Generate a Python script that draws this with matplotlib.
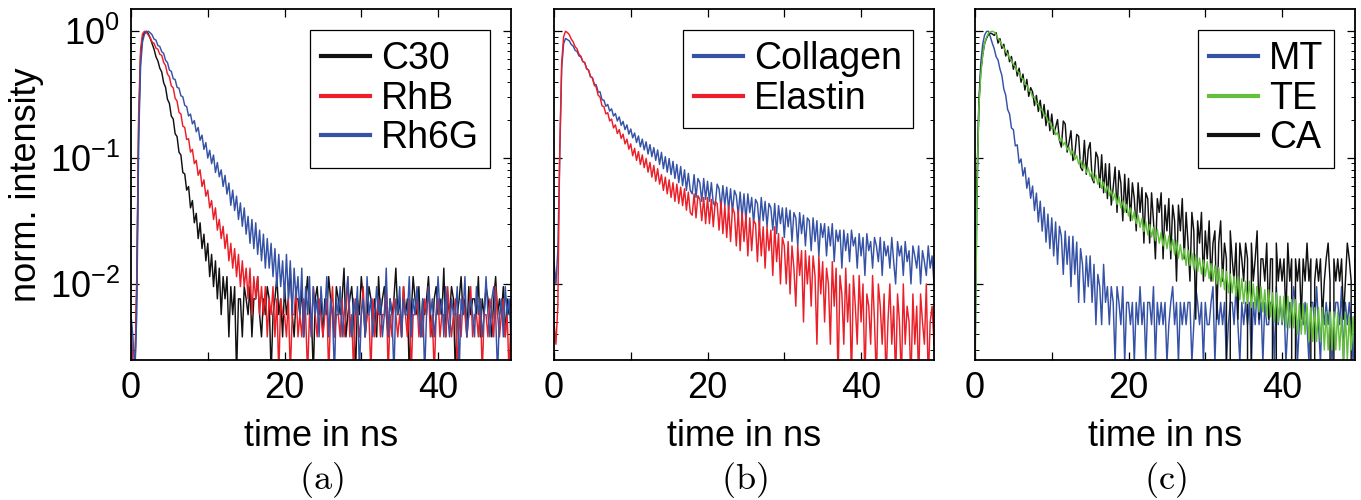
import numpy as np
import matplotlib
matplotlib.use("Agg")
import matplotlib.pyplot as plt
from matplotlib.ticker import MultipleLocator, LogLocator, NullFormatter

plt.rcParams["font.family"] = ["Liberation Sans", "DejaVu Sans"]

# histogram bin width in ns
dt = 0.25

# photon counts per bin (norm = counts at intensity 1)
c30 = [
    2, 1, 1, 5, 95, 335, 468, 512, 525, 503,
    462, 418, 379, 330, 306, 268, 250, 206, 189, 152,
    141, 112, 106, 81, 77, 58, 55, 40, 39, 29,
    31, 21, 24, 16, 19, 12, 16, 10, 13, 8,
    11, 6, 9, 5, 8, 4, 7, 3, 6, 4,
    6, 2, 5, 3, 5, 1, 4, 4, 2, 5,
    4, 3, 5, 2, 4, 4, 6, 3, 2, 4,
    3, 5, 4, 1, 3, 4, 6, 3, 4, 2,
    5, 3, 4, 7, 3, 2, 4, 4, 3, 5,
    2, 4, 6, 3, 3, 1, 4, 5, 3, 4,
    2, 4, 3, 6, 4, 3, 2, 5, 4, 3,
    4, 7, 2, 3, 4, 5, 3, 1, 4, 3,
    6, 4, 2, 3, 5, 4, 3, 4, 2, 6,
    3, 4, 5, 3, 2, 4, 3, 4, 7, 3,
    4, 2, 5, 3, 4, 1, 3, 6, 4, 3,
    5, 2, 4, 3, 4, 6, 3, 2, 4, 5,
    3, 4, 3, 7, 2, 4, 3, 5, 4, 1,
    3, 4, 6, 3, 4, 2, 5, 3, 4, 4,
    3, 6, 2, 4, 3, 5, 4, 3, 2, 4,
    6, 3, 4, 3, 5, 2, 4, 3, 4,
]
rhb = [
    3, 1, 1, 6, 120, 380, 500, 525, 515, 490,
    468, 431, 422, 386, 378, 345, 339, 298, 281, 241,
    229, 194, 187, 155, 147, 120, 116, 93, 91, 73,
    74, 58, 61, 47, 50, 38, 42, 31, 35, 26,
    29, 21, 24, 17, 21, 14, 17, 12, 15, 10,
    13, 8, 11, 7, 10, 6, 9, 5, 8, 5,
    7, 4, 7, 3, 6, 4, 6, 3, 5, 3,
    5, 2, 4, 3, 5, 2, 4, 1, 4, 3,
    3, 2, 4, 1, 3, 3, 5, 2, 3, 2,
    4, 3, 1, 3, 2, 5, 3, 2, 4, 3,
    2, 3, 4, 1, 3, 5, 2, 3, 3, 2,
    4, 2, 3, 6, 2, 3, 1, 4, 3, 2,
    3, 5, 2, 3, 3, 1, 4, 2, 3, 4,
    2, 3, 3, 5, 1, 3, 2, 4, 3, 2,
    3, 2, 5, 3, 2, 4, 1, 3, 3, 4,
    2, 3, 2, 4, 3, 5, 2, 3, 1, 3,
    4, 2, 3, 3, 2, 5, 3, 2, 3, 4,
    1, 3, 2, 4, 3, 2, 3, 5, 2, 3,
    3, 2, 4, 1, 3, 3, 2, 4, 3, 2,
    5, 3, 2, 3, 4, 2, 3, 1, 3,
]
rh6g = [
    3, 2, 1, 3, 72, 278, 432, 497, 519, 525,
    511, 492, 455, 447, 405, 398, 362, 351, 309, 297,
    259, 253, 221, 218, 189, 186, 162, 159, 136, 133,
    112, 116, 97, 103, 84, 91, 72, 79, 61, 69,
    52, 60, 47, 55, 40, 48, 37, 42, 31, 38,
    27, 33, 22, 29, 20, 26, 17, 23, 15, 21,
    13, 18, 11, 17, 10, 16, 9, 14, 8, 13,
    7, 12, 7, 11, 6, 10, 5, 9, 5, 8,
    4, 9, 4, 8, 3, 7, 4, 6, 3, 7,
    2, 5, 3, 6, 2, 5,
    3, 4, 2, 5, 3, 3, 6, 2, 4, 3,
    1, 4, 3, 5, 2, 3, 4, 6, 3, 2,
    4, 3, 5, 1, 3, 4, 2, 6, 3, 4,
    2, 3, 5, 3, 4, 2, 3, 7, 2, 4,
    3, 1, 4, 3, 5, 2, 4, 3, 3, 6,
    2, 4, 3, 5, 3, 2, 4, 1, 3, 5,
    3, 4, 2, 3, 6, 3, 4, 2, 5, 3,
    2, 4, 3, 3, 5, 1, 4, 3, 6, 2,
    3, 4, 3, 2, 5, 3, 4, 2, 3, 6,
    3, 2, 4, 5, 3, 1, 3, 4, 2, 5,
    3, 4, 2,
]
collagen = [
    9, 6, 11, 62, 304, 478, 526, 515, 503, 471,
    458, 424, 415, 383, 376, 346, 339, 305, 296, 263,
    258, 229, 226, 198, 199, 172, 171, 153, 158, 140,
    146, 128, 134, 117, 126, 108, 116, 100, 109, 92,
    101, 86, 94, 79, 89, 73, 84, 69, 80, 64,
    76, 61, 72, 57, 69, 53, 66, 49, 61, 46,
    59, 44, 56, 41, 53, 38, 51, 36, 48, 33,
    45, 33, 31, 44, 29, 41, 38, 27, 41, 28,
    39, 27, 38, 26, 25, 37, 34, 24, 36, 25,
    35, 23, 34, 22, 33, 30, 21, 32, 20, 31,
    19, 31, 22, 29, 18, 28, 26, 17, 29, 19,
    27, 17, 26, 24, 16, 26, 15, 25, 18, 24,
    14, 24, 17, 23, 13, 22, 20, 12, 22, 15,
    21, 12, 20, 19, 11, 20, 13, 19, 10, 18,
    14, 18, 10, 17, 12, 18, 9, 16, 13, 16,
    8, 16, 11, 15, 9, 16, 12, 14, 8, 15,
    10, 14, 7, 15, 11, 13, 8, 14, 12, 9,
    14, 7, 13, 10, 12, 8, 14, 9, 6, 13,
    10, 12, 7, 13, 9, 11, 6, 12, 10, 8,
    12, 6, 11, 9, 7, 12, 8, 10, 6,
]
elastin = [
    3, 2, 4, 71, 338, 542, 600, 586, 563, 519,
    494, 452, 436, 395, 381, 345, 339, 302, 295, 262,
    256, 224, 217, 187, 181, 154, 152, 133, 136, 117,
    121, 103, 109, 93, 100, 85, 92, 77, 84, 70,
    77, 62, 71, 57, 67, 53, 63, 50, 59, 46,
    55, 42, 52, 39, 49, 37, 44, 33, 42, 31,
    40, 29, 38, 27, 37, 26, 35, 25, 34, 23,
    32, 22, 21, 31, 20, 30, 28, 19, 29, 18,
    29, 18, 28, 17, 27, 26, 16, 27, 15, 25,
    14, 25, 13, 24, 22, 12, 23, 11, 22, 13,
    21, 10, 20, 11, 19, 18, 9, 19, 10, 17,
    8, 17, 11, 16, 7, 17, 9, 15, 6, 14,
    12, 6, 13, 5, 12, 8, 4, 12, 7, 11,
    3, 11, 6, 10, 4, 10, 7, 2, 10, 5,
    9, 3, 8, 6, 2, 9, 4, 8, 1, 7,
    5, 2, 8, 3, 6, 1, 7, 4, 2, 7,
    3, 6, 1, 5, 4, 2, 7, 3, 1, 6,
    4, 2, 5, 1, 3, 6, 2, 4, 1, 5,
    3, 1, 6, 2, 4, 3, 1, 5, 2, 4,
    1, 5, 3, 2, 6, 1, 3, 4, 2,
]
mt = [
    1, 18, 112, 236, 331, 392, 418, 420, 380, 338,
    306, 264, 249, 211, 188, 147, 131, 101, 93, 72,
    70, 52, 53, 38, 41, 30, 35, 24, 29, 20,
    25, 16, 22, 13, 19, 11, 17, 9, 15, 8,
    14, 7, 13, 6, 12, 10, 5, 11, 6, 10,
    4, 10, 5, 9, 3, 8, 6, 3, 7, 4,
    7, 3, 6, 2, 5, 4, 2, 6, 3, 4,
    2, 4, 3, 1, 4, 3, 2, 4, 1, 3,
    3, 2, 3, 1, 3, 2, 4, 2, 3, 1,
    3, 3, 2, 4, 1, 3, 2, 3, 2, 3,
    1, 2, 3, 4, 2, 3, 1, 3, 2, 3,
    2, 3, 3, 1, 2, 4, 3, 2, 3, 1,
    3, 2, 2, 3, 4, 1, 3, 2, 3, 2,
    3, 1, 2, 3, 3, 2, 4, 2, 1, 3,
    2, 3, 2, 3, 1, 3, 2, 4, 2, 3,
    1, 3, 2, 2, 3, 3, 1, 4, 2, 3,
    2, 3, 1, 2, 3, 2, 4, 3, 1, 2,
    3, 2, 3, 2, 1, 3, 3, 2, 4, 2,
    1, 3, 2, 3, 2, 3, 1, 2, 3, 3,
    2, 4, 1, 3, 2, 3, 2, 1, 3,
]
te = [
    3, 102, 497, 905, 1296, 1604, 1795, 1926, 1978, 2000,
    1972, 1884, 1745, 1676, 1551, 1489, 1381, 1325, 1229, 1180,
    1088, 1061, 962, 941, 858, 840, 760, 749, 676, 668,
    601, 605, 533, 538, 475, 484, 425, 433, 380, 388,
    338, 351, 303, 316, 272, 286, 251, 265, 230, 243,
    210, 225, 193, 207, 178, 192, 165, 178, 152, 166,
    142, 155, 131, 146, 123, 136, 114, 128, 106, 119,
    100, 111, 92, 104, 85, 98, 80, 91, 74, 85,
    69, 80, 64, 75, 60, 70, 56, 66, 52, 62,
    49, 59, 47, 56, 44, 54, 42, 51, 40, 49,
    38, 48, 37, 45, 34, 44, 32, 41, 31, 38,
    28, 37, 28, 35, 26, 34, 25, 32, 24, 31,
    23, 30, 22, 29, 21, 28, 20, 27, 19, 26,
    18, 25, 17, 24, 17, 23, 16, 23, 15, 22,
    14, 21, 14, 21, 13, 20, 13, 19, 12, 19,
    12, 18, 11, 18, 11, 17, 10, 17, 10, 16,
    10, 16, 9, 16, 9, 15, 9, 15, 8, 14,
    8, 14, 8, 14, 7, 13, 7, 13, 7, 13,
    7, 13, 6, 12, 6, 12, 6, 12, 6, 12,
    6, 11, 5, 12, 5, 11, 6, 11, 5,
]
ca = [
    3, 12, 50, 91, 124, 152, 167, 179, 184, 181,
    176, 185, 153, 166, 139, 150, 121, 134, 109, 120,
    95, 109, 84, 97, 75, 87, 65, 79, 58, 68,
    63, 49, 59, 44, 54, 39, 50, 34, 45, 31,
    42, 29, 33, 38, 26, 23, 37, 35, 21, 25,
    31, 18, 20, 29, 28, 16, 15, 26, 14, 22,
    25, 13, 12, 21, 19, 11, 20, 10, 17, 9,
    17, 8, 11, 16, 7, 15, 12, 6, 14, 7,
    13, 6, 12, 9, 5, 12, 7, 11, 4, 10,
    9, 4, 10, 6, 3, 9, 7, 10, 3, 8,
    5, 9, 3, 8, 6, 2, 8, 5, 9, 3,
    7, 4, 2, 7, 5, 1, 6, 4, 7, 2,
    5, 3, 6, 2, 4, 5, 1, 4, 6, 2,
    4, 3, 0, 5, 3, 2, 4, 1, 4, 3,
    2, 4, 3, 0, 4, 2, 3, 5, 1, 3,
    3, 2, 4, 1, 3, 3, 0, 4, 2, 3,
    2, 3, 1, 4, 2, 3, 0, 3, 2, 3,
    1, 3, 2, 4, 2, 3, 0, 2, 3, 2,
    3, 1, 2, 3, 4, 2, 0, 3, 2, 3,
    2, 3, 1, 2, 4, 3, 2, 0, 3,
]

blue = "#3552a6"
red = "#ea1f28"
green = "#63bf3c"
black = "#111111"

# (label, counts, counts at intensity 1, colour), in drawing order
panels = [
    ("(a)", [("C30", c30, 525, black), ("RhB", rhb, 525, red), ("Rh6G", rh6g, 525, blue)],
     ["C30", "RhB", "Rh6G"]),
    ("(b)", [("Collagen", collagen, 600, blue), ("Elastin", elastin, 600, red)],
     ["Collagen", "Elastin"]),
    ("(c)", [("MT", mt, 420, blue), ("CA", ca, 190, black), ("TE", te, 2000, green)],
     ["MT", "TE", "CA"]),
]

fig = plt.figure(figsize=(13.61, 5.0), dpi=100)
lefts = [131, 554, 975]

for i, (tag, series, order) in enumerate(panels):
    ax = fig.add_axes([lefts[i] / 1361, 140 / 500, 380 / 1361, 351 / 500])
    ax.set_yscale("log", nonpositive="clip")
    lines = {}
    for name, counts, norm, col in series:
        y = np.array(counts, dtype=float) / norm
        t = np.arange(len(y)) * dt
        lines[name], = ax.plot(t, y, color=col, lw=1.05, label=name)

    ax.set_xlim(0, 49.5)
    ax.set_ylim(0.0025, 1.5)
    ax.xaxis.set_major_locator(MultipleLocator(20))
    ax.xaxis.set_minor_locator(MultipleLocator(10))
    ax.set_yticks([1, 0.1, 0.01],
                  [r"$\mathregular{10^{0}}$", r"$\mathregular{10^{-1}}$", r"$\mathregular{10^{-2}}$"])
    ax.yaxis.set_minor_locator(LogLocator(base=10, subs=np.arange(2, 10), numticks=20))
    ax.yaxis.set_minor_formatter(NullFormatter())
    ax.tick_params(which="both", direction="in", top=True, right=True, labelsize=26, pad=8)
    ax.tick_params(which="major", length=6, width=0.9)
    ax.tick_params(which="minor", length=3, width=0.7)
    ax.tick_params(axis="x", which="minor", length=6, width=0.9)
    for sp in ax.spines.values():
        sp.set_linewidth(1.3)
    if i == 0:
        ax.set_ylabel("norm. intensity", fontsize=26, labelpad=4)
    else:
        ax.tick_params(labelleft=False)
    ax.set_xlabel("time in ns", fontsize=26, labelpad=9)

    leg = ax.legend([lines[n] for n in order], order, loc="upper right", fontsize=27,
                    handlelength=1.3, handletextpad=0.3, labelspacing=0.1,
                    borderpad=0.3, borderaxespad=0.55, fancybox=False,
                    edgecolor="black", framealpha=1)
    leg.get_frame().set_linewidth(0.9)
    for h in leg.get_lines():
        h.set_linewidth(3)

    fig.text((lefts[i] + 190) / 1361, 0.04, r"$\mathrm{" + tag + "}$",
             math_fontfamily="cm", fontsize=26, ha="center", va="center")

fig.savefig("out.png", dpi=100)
